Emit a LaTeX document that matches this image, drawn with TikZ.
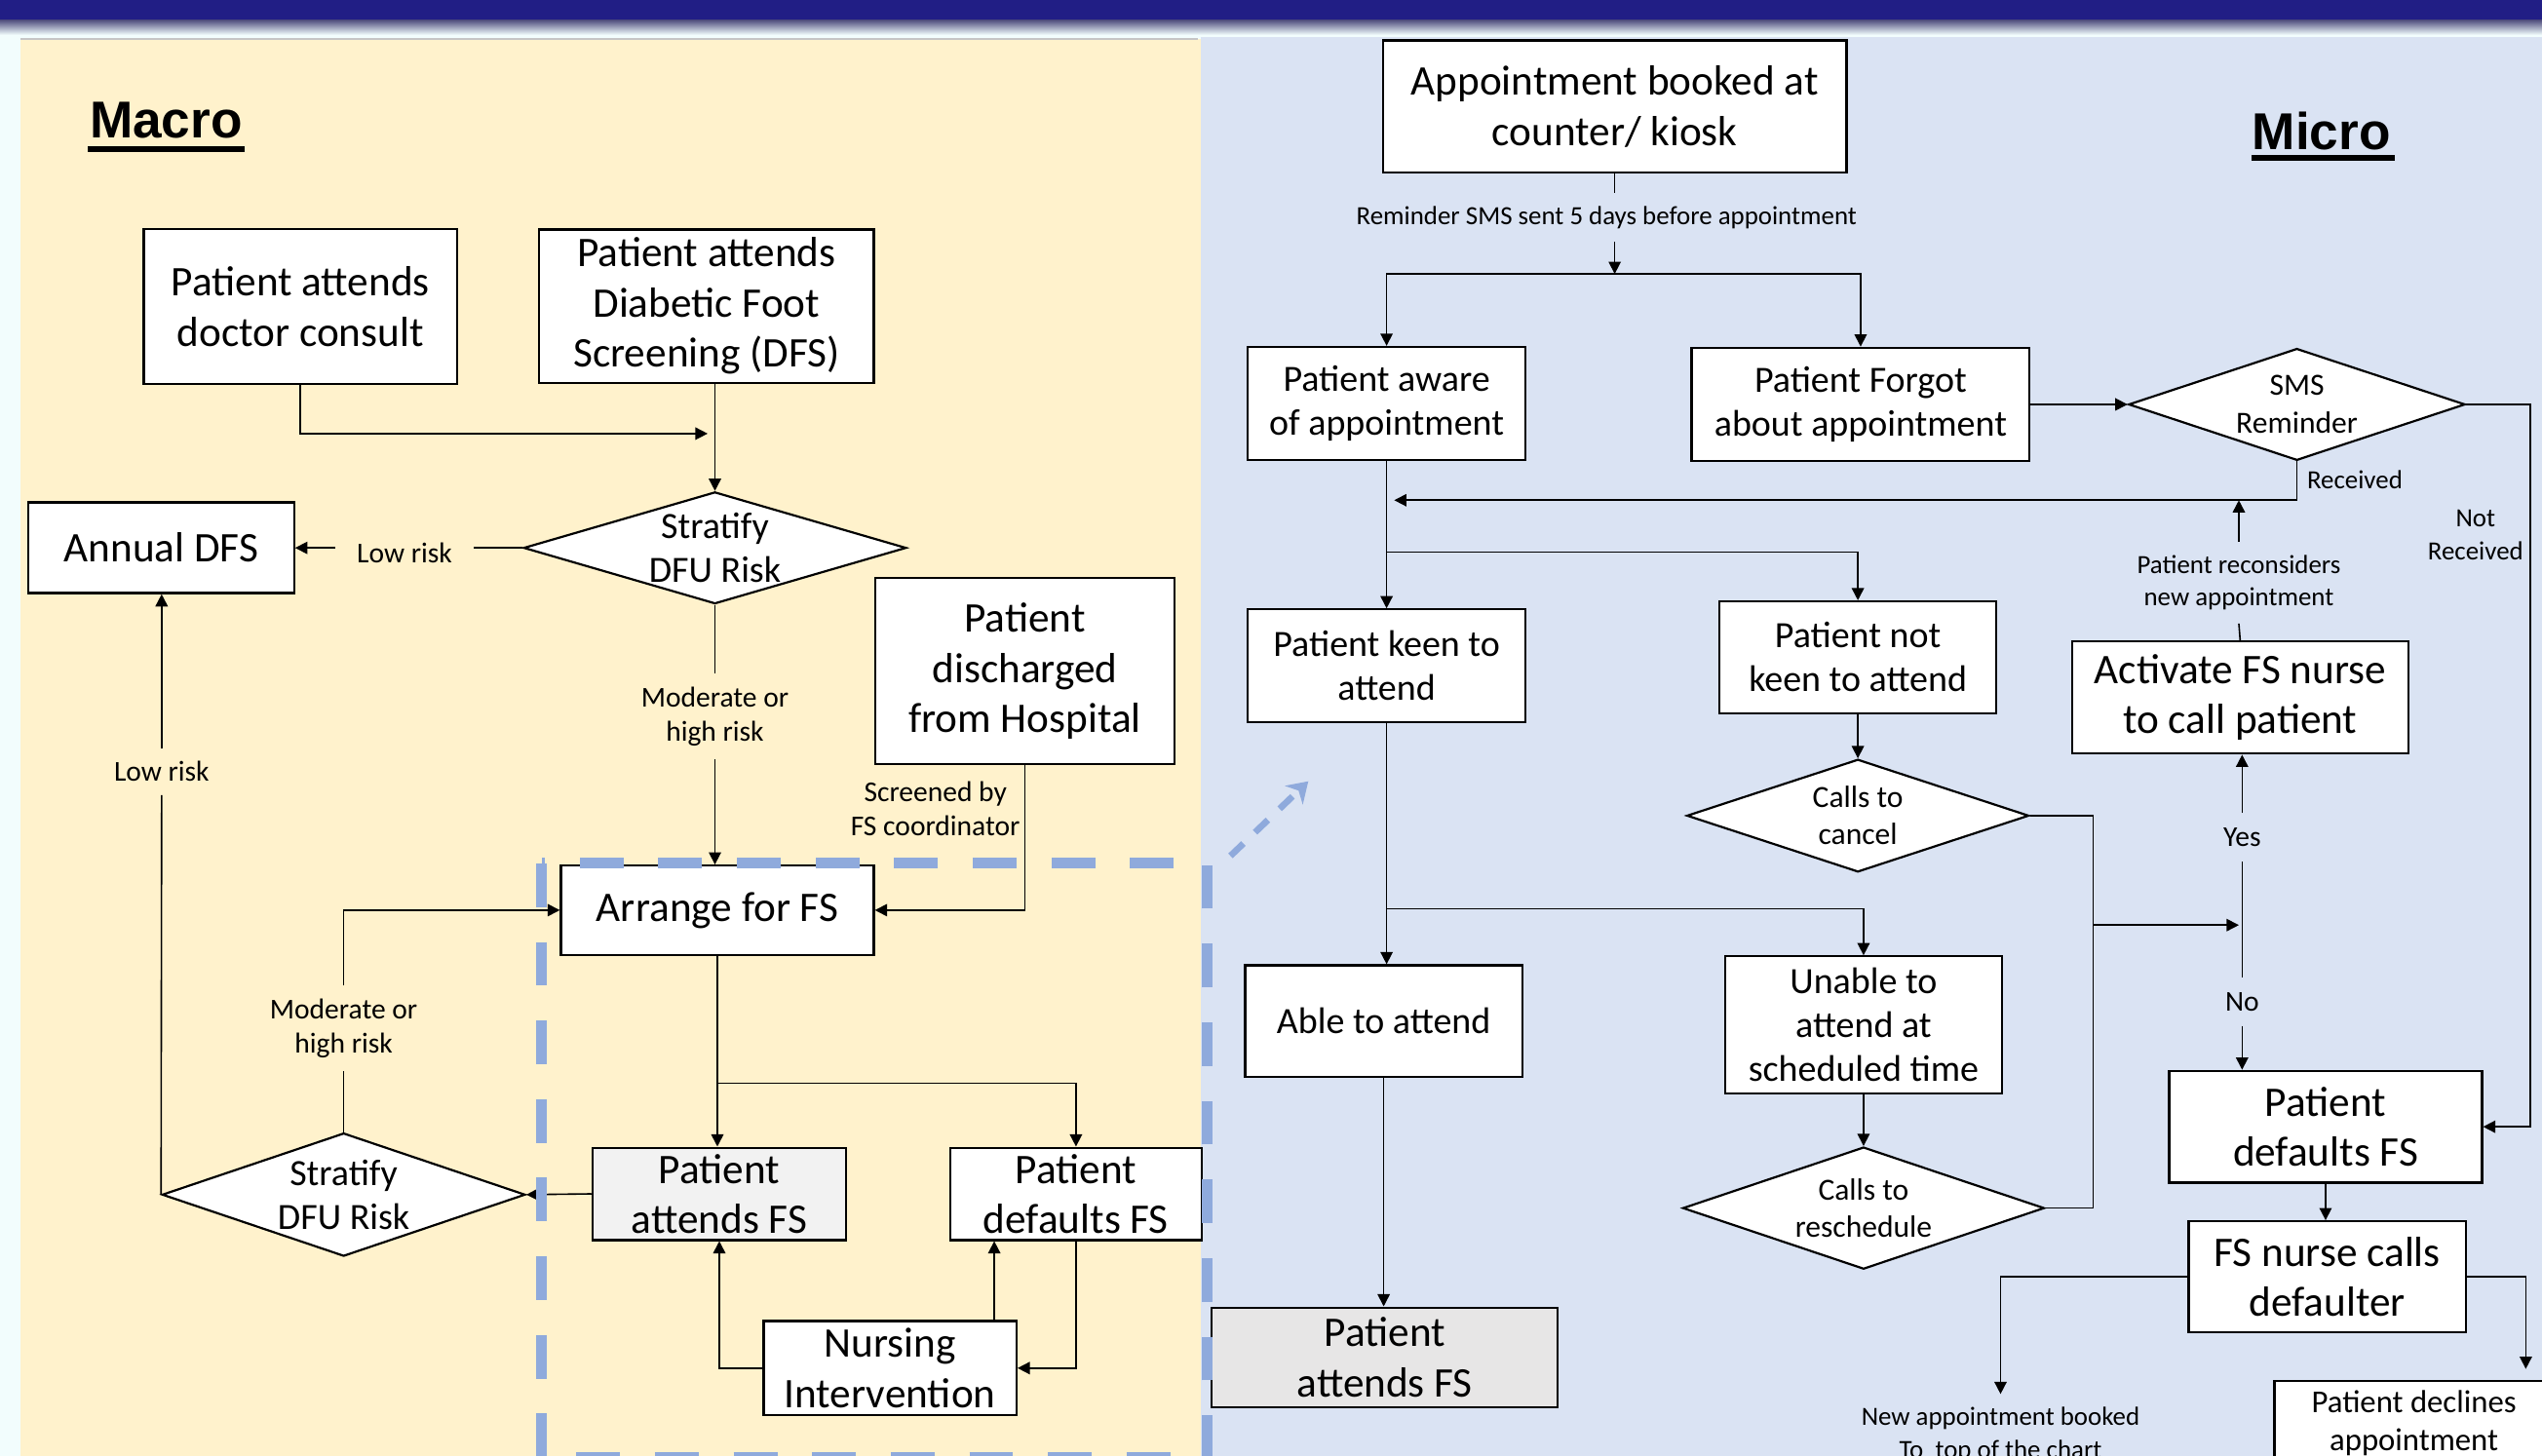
\documentclass[tikz,border=0pt]{standalone}
\usepackage{fontspec}
\setmainfont{Carlito}
\newfontfamily\arialfont{Liberation Sans}
\usetikzlibrary{arrows.meta,calc,shapes.geometric}
\definecolor{navy}{RGB}{33,30,133}
\definecolor{cream}{HTML}{FFF2CC}
\definecolor{paleblue}{HTML}{DAE3F3}
\definecolor{dashblue}{HTML}{8FAADC}
\definecolor{strip}{HTML}{F2FDFD}
\definecolor{grayA}{HTML}{F2F2F2}
\definecolor{grayB}{HTML}{E7E6E6}
\tikzset{
  bx/.style={draw=black, line width=0.75pt, fill=white, inner sep=0pt, align=center},
  big/.style={font=\fontsize{14.8pt}{17.6pt}\selectfont},
  med/.style={font=\fontsize{13pt}{15.4pt}\selectfont},
  sz/.style 2 args={minimum width=#1*0.02cm, minimum height=#2*0.02cm},
  dia/.style={draw=black, diamond, fill=white, line width=0.75pt, inner sep=0pt},
  dtext/.style={align=center, inner sep=0pt},
  dbig/.style={font=\fontsize{13pt}{15.4pt}\selectfont},
  dsmall/.style={font=\fontsize{10.8pt}{13.1pt}\selectfont},
  lbl/.style={align=center, inner xsep=2pt, inner ysep=4.5pt, font=\fontsize{10.1pt}{12pt}\selectfont},
  lbls/.style={align=center, inner xsep=2pt, inner ysep=4.5pt, font=\fontsize{9.2pt}{11.4pt}\selectfont},
  ln/.style={draw=black, line width=0.55pt},
  arr/.style={draw=black, line width=0.55pt, -{Triangle[length=4.3pt,width=4.3pt]}},
  title/.style={font=\arialfont\bfseries\fontsize{18.2pt}{20pt}\selectfont, inner sep=0pt, anchor=base west}
}
\begin{document}
\begin{tikzpicture}[x=0.02cm,y=-0.02cm]
\useasboundingbox (0,0) rectangle (1568,898);
% backgrounds
\fill[strip] (0,0) rectangle (1568,898);
\fill[navy] (0,0) rectangle (1568,12.6);
\shade[top color=navy!45!gray, bottom color=strip] (0,12.6) rectangle (1568,21.5);
\fill[cream] (12.6,24) rectangle (741,898);
\draw[gray!45, line width=0.6pt] (12.6,24) -- (739,24);
\fill[paleblue] (741,23) rectangle (1568,898);

% titles
\node[title] (macro) at (55,85.2) {Macro};
\fill (54,90.2) rectangle (151,93.8);
\node[title] (micro) at (1389,92) {Micro};
\fill (1389,95.8) rectangle (1477,99.3);

% ---------- left (Macro) ----------
\node[bx,big,sz={193.3}{95.5}] (doc) at (185.3,189.2) {Patient attends\\doctor consult};
\node[bx,big,sz={206.4}{94.5}] (dfs) at (435.8,188.8) {Patient attends\\Diabetic Foot\\Screening (DFS)};
\node[dia,sz={236}{69}] (d1) at (441,338) {};
\node[dtext,dbig] (d1t) at (d1) {Stratify\\DFU Risk};
\node[bx,big,sz={164}{56}] (annual) at (99.4,337.9) {Annual DFS};
\node[bx,big,sz={184.5}{114.8}] (disch) at (632.2,414.1) {Patient\\discharged\\from Hospital};
\node[bx,big,sz={193}{55}] (arrange) at (442.5,561.5) {Arrange for FS};
\node[bx,big,sz={156.5}{57},fill=grayA] (pafs) at (443.7,736.5) {Patient\\attends FS};
\node[bx,big,sz={155.5}{57}] (pdfs) at (663.7,736.5) {Patient\\defaults FS};
\node[bx,big,sz={156}{58}] (nursing) at (549,844) {Nursing\\Intervention};
\node[dia,sz={224}{76}] (d2) at (212,737) {};
\node[dtext,dbig] (d2t) at (d2) {Stratify\\DFU Risk};

\node[lbl, inner xsep=7.5pt] (lowr) at (249.5,341) {Low risk};
\node[lbl] (mh1) at (441,442) {Moderate or\\high risk};
\node[lbl, inner sep=0pt] (scr) at (577,499) {Screened by\\FS coordinator};
\node[lbl] (lowr2) at (99.7,476) {Low risk};
\node[lbl] (mh2) at (212,634.5) {Moderate or\\high risk};

\coordinate (j1) at (436.5,267.5);
\coordinate (nx) at ($(pdfs.south west)+(28,0)$);

\draw[arr] (doc.south) |- (j1);
\draw[arr] (d1.north |- dfs.south) -- (d1.north);
\draw[ln] (d1.west) -- (d1.west -| lowr.east);
\draw[arr] (d1.west -| lowr.west) -- (d1.west -| annual.east);
\draw[ln] (d1.south) -- (mh1.north);
\draw[arr] (mh1.south) -- (mh1.south |- arrange.north);
\draw[arr] (disch.south) |- (arrange.east);
\draw[arr] (arrange.south) -- (arrange.south |- pafs.north);
\draw[arr] ($(arrange.south)+(0,78.5)$) -| (pdfs.north);
\draw[arr] (nursing.west) -| (pafs.south);
\draw[arr] (nx |- nursing.north) -- (nx);
\draw[arr] (pdfs.south) |- (nursing.east);
\draw[arr] (pafs.west) -- (d2.east);
\draw[ln] (d2.north) -- (mh2.south);
\draw[arr] (mh2.north) |- (arrange.west);
\draw[ln] (d2.west) -- (lowr2.south);
\draw[arr] (lowr2.north) -- (lowr2.north |- annual.south);

% ---------- right (Micro) ----------
\node[bx,big,sz={286}{81.5}] (appt) at (996,65.7) {Appointment booked at\\counter/ kiosk};
\node[bx,med,sz={171.4}{70}] (aware) at (855.3,249) {Patient aware\\of appointment};
\node[bx,med,sz={208.5}{70}] (forgot) at (1147.7,249.5) {Patient Forgot\\about appointment};
\node[dia,sz={207.6}{69}] (sms) at (1416.8,249.5) {};
\node[dtext,dsmall] (smst) at (sms) {SMS\\Reminder};
\node[bx,med,sz={171.4}{69.5}] (keen) at (855.3,410.7) {Patient keen to\\attend};
\node[bx,med,sz={171}{69}] (notkeen) at (1146,405.5) {Patient not\\keen to attend};
\node[bx,big,sz={207.6}{69.3}] (activate) at (1381.8,430.3) {Activate FS nurse\\to call patient};
\node[dia,sz={211}{69.5}] (cancel) at (1146,503.2) {};
\node[dtext,dsmall] (cancelt) at (cancel) {Calls to\\cancel};
\node[bx,med,sz={171}{69}] (able) at (853.5,630) {Able to attend};
\node[bx,med,sz={171}{84.6}] (unable) at (1149.5,632.3) {Unable to\\attend at\\scheduled time};
\node[dia,sz={223}{75.3}] (resched) at (1149.5,745.3) {};
\node[dtext,dsmall] (reschedt) at (resched) {Calls to\\reschedule};
\node[bx,big,sz={213.5}{61.4},fill=grayB] (pafs2) at (854.2,837.3) {Patient\\attends FS};
\node[bx,big,sz={193}{69}] (pdfs2) at (1434.5,695.1) {Patient\\defaults FS};
\node[bx,big,sz={171}{68.5}] (nurse) at (1435.5,787.7) {FS nurse calls\\defaulter};
\node[bx,font=\fontsize{11.2pt}{13.1pt}\selectfont,sz={172}{52}] (decl) at (1489,878) {Patient declines\\appointment};

\node[lbls] (remind) at (991,134) {Reminder SMS sent 5 days before appointment};
\node[lbls, anchor=west, inner sep=1pt] (recv) at (1421,296) {Received};
\node[lbls, inner sep=1pt] (notrecv) at (1527,330) {Not\\Received};
\node[lbls] (recons) at (1381,359.5) {Patient reconsiders\\new appointment};
\node[lbl, inner ysep=5pt] (yes) at (1383,516.6) {Yes};
\node[lbl, inner ysep=5pt] (no) at (1383,618) {No};
\node[lbls, anchor=north, inner xsep=1.5pt, inner ysep=4.5pt] (newappt) at (1234,860) {New appointment booked\\To~ top of the chart};

\coordinate (j2) at (996,169);
\coordinate (j3) at (860,308.6);
\coordinate (j7) at (1381,308.6);
\coordinate (j5) at (1291,570.7);
\coordinate (j6) at (1381,570.7);
\coordinate (j8) at (1558,844.5);

\draw[ln] (appt.south) -- (appt.south |- remind.north);
\draw[arr] (remind.south -| j2) -- (j2);
\draw[arr] (j2) -| (aware.north);
\draw[arr] (j2) -| (forgot.north);
\draw[arr] (forgot.east) -- (sms.west);
\draw[arr] (sms.south) |- (j3);
\draw[arr] (sms.east) -- ++(39.4,0) |- (pdfs2.east);
\draw[arr] (aware.south) -- (keen.north);
\draw[arr] ($(aware.south)+(0,56)$) -| (notkeen.north);
\draw[arr] (notkeen.south) -- (cancel.north);
\draw[ln] (cancel.east) -- ++(39,0) |- (resched.east);
\draw[arr] (j5) -- (j6);
\draw[arr] (yes.north) -- (yes.north |- activate.south);
\draw[ln] (yes.south) -- (no.north);
\draw[arr] (no.south) -- (no.south |- pdfs2.north);
\draw[ln] (activate.north) -- (recons.south);
\draw[arr] (recons.north) -- (j7);
\draw[arr] (keen.south) -- (keen.south |- able.north);
\draw[arr] ($(keen.south)+(0,114.5)$) -| (unable.north);
\draw[arr] (unable.south) -- (resched.north);
\draw[arr] (able.south) -- (able.south |- pafs2.north);
\draw[arr] (pdfs2.south) -- (pdfs2.south |- nurse.north);
\draw[arr] (nurse.west) -| (newappt.north);
\draw[arr] (nurse.east) -| (j8);

% dashed focus frame and arrow
\coordinate (dstart) at (759,528);
\coordinate (dtip) at (807,482);
\draw[dashblue, line width=0.13cm, dash pattern=on 0.54cm off 0.43cm] (334,532.6) rectangle (744.5,899);
\draw[dashblue, line width=0.08cm, dash pattern=on 0.22cm off 0.2cm, -{Stealth[length=7pt,width=9pt]}] (dstart) -- (dtip);
\end{tikzpicture}
\end{document}
